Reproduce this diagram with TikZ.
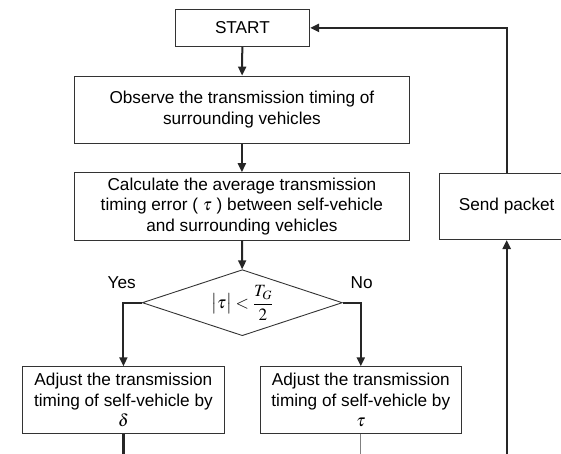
\documentclass[tikz,border=0pt]{standalone}
\usepackage{mathptmx}
\usepackage{fontspec}
\setmainfont{Liberation Sans}
\usetikzlibrary{arrows.meta,shapes.geometric}
\begin{document}
\begin{tikzpicture}[x=1pt,y=-1pt,
  every node/.style={font=\fontsize{17.2}{20.7}\selectfont},
  box/.style={draw=black!80,line width=0.9pt,rectangle,inner sep=0pt,align=center},
  decision/.style={draw=black!80,line width=0.9pt,diamond,aspect=3,inner sep=0pt,minimum width=200pt,minimum height=66pt},
  flow/.style={draw=black!85,line width=2pt,-{Triangle[length=9pt,width=8pt]}},
  loop/.style={draw=black!85,line width=2.4pt},
  thinline/.style={draw=black!50,line width=1pt},
  lbl/.style={inner sep=0pt}]
\useasboundingbox (0,0) rectangle (561,454);
\clip (0,0) rectangle (561,454);
\node[box,minimum width=134.4pt,minimum height=37.7pt] (start) at (242.4,27.9) {START};
\node[box,minimum width=335pt,minimum height=67.3pt] (obs) at (241.9,109.7) {Observe the transmission timing of\\surrounding vehicles};
\node[box,minimum width=335pt,minimum height=67.3pt] (calc) at (241.9,206.3) {Calculate the average transmission\\timing error ( $\tau$ ) between self-vehicle\\and surrounding vehicles};
\node[decision] (dia) at (242.3,302.7) {$\displaystyle\bigl|\tau\bigr|<\frac{T_G}{2}$};
\node[box,minimum width=202.3pt,minimum height=66.6pt] (left) at (123.4,400) {Adjust the transmission\\timing of self-vehicle by\\$\delta$};
\node[box,minimum width=201pt,minimum height=66.6pt] (right) at (360.8,400) {Adjust the transmission\\timing of self-vehicle by\\$\tau$};
\node[box,minimum width=134.8pt,minimum height=66.6pt] (send) at (506.7,206.3) {Send packet};
\node[lbl] (yes) at (121.7,283) {Yes};
\node[lbl] (no) at (361.7,283) {No};
\coordinate (lb) at (123.4,470);
\coordinate (rb) at (360.8,470);
\coordinate (sb) at (506.7,470);
\draw[flow] (start) -- (obs);
\draw[flow] (obs) -- (calc);
\draw[flow] (calc) -- (dia);
\draw[flow] (dia.west) -| (left.north);
\draw[flow] (dia.east) -| (right.north);
\draw[loop] (left.south) -- (lb);
\draw[thinline] (right.south) -- (rb);
\draw[loop,-{Triangle[length=9pt,width=8pt]}] (sb) -- (send.south);
\draw[loop,-{Triangle[length=9pt,width=8pt]}] (send.north) |- (start.east);
\end{tikzpicture}
\end{document}
